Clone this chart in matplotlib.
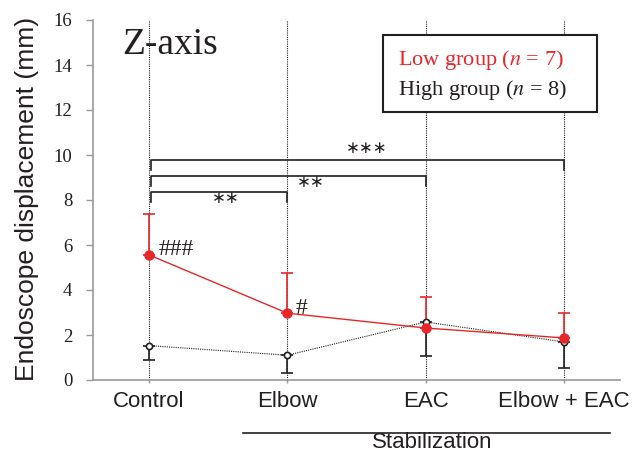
import matplotlib
matplotlib.use("Agg")
import matplotlib.pyplot as plt
from matplotlib.patches import Rectangle
from matplotlib.transforms import blended_transform_factory

# Data
categories = ["Control", "Elbow", "EAC", "Elbow + EAC"]
low_mean = [5.56, 2.97, 2.31, 1.87]
low_sd = [1.82, 1.8, 1.38, 1.1]
high_mean = [1.53, 1.10, 2.58, 1.69]
high_sd = [0.66, 0.77, 1.5, 1.16]
y_ticks = [0, 2, 4, 6, 8, 10, 12, 14, 16]

# Significance brackets: (start index, end index, height, label)
brackets = [(0, 3, 9.78, "***"), (0, 2, 9.08, "**"), (0, 1, 8.34, "**")]

RED = "#e8262a"
INK = "#231f20"
GRAY = "#9a9a9a"
SERIF = "Liberation Serif"
SANS = "Liberation Sans"

plt.rcParams["mathtext.fontset"] = "stix"

fig = plt.figure(figsize=(6.33, 4.53), dpi=100)
ax = fig.add_axes([93 / 633, 1 - 380 / 453, 527 / 633, 360 / 453])

x = list(range(len(categories)))

# Vertical dotted guide lines
for xi in x:
    ax.plot([xi, xi], [-0.1, 16], color=INK, lw=0.8, ls=(0, (1, 1)),
            zorder=1, clip_on=False)

# High group: dotted line, open markers, error bars downward
ax.errorbar(x, high_mean, yerr=[high_sd, [0] * 4], fmt="none", ecolor=INK,
            elinewidth=1.2, capsize=4, capthick=1.2, zorder=2)
ax.plot(x, high_mean, color=INK, lw=0.8, ls=(0, (1, 1)), marker="o",
        markersize=4.5, markerfacecolor="white", markeredgecolor=INK,
        markeredgewidth=1.2, zorder=4)

# Low group: solid red line, filled markers, error bars upward
ax.errorbar(x, low_mean, yerr=[[0] * 4, low_sd], fmt="none", ecolor=RED,
            elinewidth=1.2, capsize=4, capthick=1.2, zorder=2)
ax.plot(x, low_mean, color=RED, lw=1.0, marker="o", markersize=6.5,
        markerfacecolor=RED, markeredgecolor=RED, zorder=5)

# Brackets with stars
drop = 0.45
for i0, i1, h, label in brackets:
    ax.plot([i0 + 0.015, i0 + 0.015, i1, i1], [h - drop, h, h, h - drop],
            color=INK, lw=1.2, zorder=3)
star_pos = [(1.574, 10.31), (1.17, 8.8), (0.556, 8.09)]
for (sx, sy), (_, _, _, label) in zip(star_pos, brackets):
    ax.text(sx, sy, "\u2217" * len(label), ha="center", va="center",
            fontsize=12, color=INK, family="DejaVu Sans")

# Hash marks for between-group differences
ax.text(0.072, 5.82, "###", ha="left", va="center", fontsize=17,
        family=SERIF, color=INK)
ax.text(1.061, 3.2, "#", ha="left", va="center", fontsize=17,
        family=SERIF, color=INK)

# Panel title
ax.text((122 - 93) / 527, (380 - 45) / 360, "Z-axis", transform=ax.transAxes,
        ha="left", va="center", fontsize=27, family=SERIF, color=INK)

# Legend box drawn by hand
ax.add_patch(Rectangle((0.550, 0.744), 0.406, 0.214, transform=ax.transAxes,
                       facecolor="white", edgecolor=INK, lw=1.5, zorder=6))
ax.text(0.579, 0.889, "Low group ($n$ = 7)", transform=ax.transAxes,
        ha="left", va="center", fontsize=16, family=SERIF, color=RED, zorder=7)
ax.text(0.579, 0.806, "High group ($n$ = 8)", transform=ax.transAxes,
        ha="left", va="center", fontsize=16, family=SERIF, color=INK, zorder=7)

# Axes styling
ax.set_xlim(-0.405, 3.405)
ax.set_ylim(0, 16)
ax.set_yticks(y_ticks)
ax.set_yticklabels([str(t) for t in y_ticks], family=SERIF, fontsize=13.5,
                   color=INK)
ax.set_xticks(x)
ax.set_xticklabels(categories, family=SANS, fontsize=16, color=INK)
ax.tick_params(axis="y", length=5, width=1, color=GRAY, pad=10)
ax.tick_params(axis="x", length=2, width=1, color=GRAY, pad=6)
for side in ["top", "right"]:
    ax.spines[side].set_visible(False)
for side in ["left", "bottom"]:
    ax.spines[side].set_color(GRAY)
    ax.spines[side].set_linewidth(1.2)

ax.set_ylabel("Endoscope displacement (mm)", family=SANS, fontsize=19,
              color=INK)
ax.yaxis.set_label_coords(-0.102, 0.503)

# Stabilization group line under the last three categories
trans = blended_transform_factory(ax.transData, ax.transAxes)
ax.plot([0.68, 3.33], [-0.147, -0.147], color=INK, lw=1.2, transform=trans,
        clip_on=False)
ax.text(2.05, -0.175, "Stabilization", transform=trans, ha="center",
        va="center", fontsize=16, family=SANS, color=INK)

fig.savefig("out.png", dpi=100)
